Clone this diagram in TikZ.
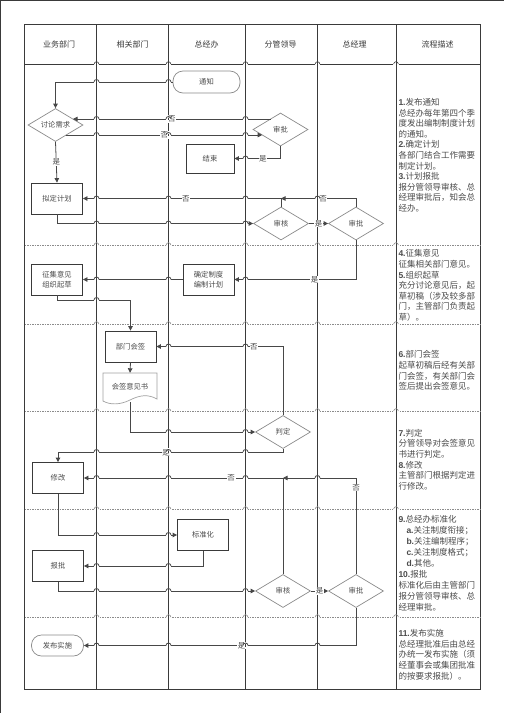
\documentclass[tikz,border=0pt]{standalone}
\usepackage{fontspec}
\setmainfont{Noto Sans CJK SC}
\newfontfamily\numfont{Liberation Sans}
\usetikzlibrary{shapes.geometric,arrows.meta}
\definecolor{lanec}{HTML}{3A3A3A}
\definecolor{connc}{HTML}{474747}
\definecolor{diac}{HTML}{8A8A8A}
\definecolor{txtc}{HTML}{4A4A4A}
\definecolor{sepc}{HTML}{8C8C8C}
\tikzset{
  lanes/.style={draw=lanec,line width=0.8pt},
  sepline/.style={draw=sepc,line width=0.7pt,dash pattern=on 1.6pt off 0.9pt},
  conn/.style={draw=connc,line width=0.8pt},
  arr/.style={conn,-{Triangle[length=4.5pt,width=4.5pt]}},
  boxn/.style={draw=lanec,line width=0.8pt,fill=white,minimum width=51pt,minimum height=31pt,inner sep=0pt,align=center,font=\fontsize{7.3}{10}\selectfont,text=txtc},
  dian/.style={diamond,draw=diac,line width=0.7pt,fill=white,minimum width=55pt,minimum height=33pt,inner sep=0pt,aspect=1.67,font=\fontsize{7.3}{9}\selectfont,text=txtc},
  termn/.style={draw=diac,line width=0.7pt,fill=white,rounded corners=10pt,inner sep=0pt,font=\fontsize{7.3}{9}\selectfont,text=txtc},
  lbl/.style={fill=white,inner sep=0.6pt,font=\fontsize{7.5}{8}\selectfont,text=txtc},
  hdr/.style={inner sep=0pt,font=\fontsize{8}{10}\selectfont,text=lanec},
  desc/.style={anchor=north west,inner sep=0pt,align=left,font=\fontsize{8.5}{10.6}\selectfont,text=txtc},
  docline/.style={draw=diac!80,line width=0.7pt,fill=white}
}
\newcommand\myhopc[2]{%
  \fill[white] (#1-2.8,#2-1.1) rectangle (#1+2.8,#2+1.1);
  \draw[lanes] (#1,#2-1.4) -- (#1,#2+1.4);
  \draw[conn] (#1-2.5,#2) arc[start angle=180,end angle=0,radius=2.5pt];}
\newcommand\myhopl[3]{%
  \fill[white] (#1-2.6,#2-0.9) rectangle (#1+2.6,#2+0.9);
  \draw[lanes] (#1,#2-1.2) -- (#1,#2+1.2);
  \draw[draw=#3,line width=0.6pt] (#1-2.3,#2) arc[start angle=180,end angle=0,radius=2.3pt];}
\newcommand\nb[1]{{\numfont\bfseries #1}}
\begin{document}
\begin{tikzpicture}[x=1pt,y=-1pt]
\useasboundingbox (0,0) rectangle (504,713);
% page frame (top and left)
\draw[draw=lanec,line width=1.2pt] (0,0.6) -- (504,0.6);
\draw[draw=lanec,line width=1.4pt] (0.7,0) -- (0.7,713);
% table
\draw[lanes] (24.5,24.5) rectangle (480.5,689);
\draw[lanes] (24.5,64) -- (480.5,64);
\foreach \lx in {96.5,168.5,245.5,317.5,396} \draw[lanes] (\lx,24.5) -- (\lx,689);
\foreach \sy in {245,324,411,509,617} \draw[sepline] (24.5,\sy) -- (480.5,\sy);
\foreach \lx in {96.5,168.5,245.5,317.5,396} {
  \myhopl{\lx}{64}{lanec}
  \foreach \sy in {245,324,411,509,617} {\myhopl{\lx}{\sy}{sepc}}
}
% headers
\node[hdr] (h1) at (59,44.3) {业务部门};
\node[hdr] (h2) at (132.5,44.3) {相关部门};
\node[hdr] (h3) at (206.5,44.3) {总经办};
\node[hdr] (h4) at (280.5,44.3) {分管领导};
\node[hdr] (h5) at (354.5,44.3) {总经理};
\node[hdr] (h6) at (437.5,44.3) {流程描述};
% nodes
\node[termn,minimum width=67pt,minimum height=22pt] (tz) at (206.5,82) {通知};
\node[dian] (tl) at (55.5,125) {讨论需求};
\node[dian] (sp1) at (280.5,129.5) {审批};
\node[boxn,minimum width=48pt,minimum height=29pt] (js) at (210,158.5) {结束};
\node[boxn] (nd) at (57,198.5) {拟定计划};
\node[dian] (sh1) at (281,223.5) {审核};
\node[dian] (sp2) at (356,223.5) {审批};
\node[boxn] (zj) at (57,279.5) {征集意见\\组织起草};
\node[boxn] (qd) at (208.5,279.5) {确定制度\\编制计划};
\node[boxn] (bm) at (130.5,346.5) {部门会签};
\draw[docline] (103,373) -- (157,373) -- (157,399) .. controls (148,394) and (140,395) .. (130,400) .. controls (120,405) and (110,405) .. (103,401) -- cycle;
\node[inner sep=0pt,minimum width=54pt,minimum height=29pt,font=\fontsize{7.3}{9}\selectfont,text=txtc] (hq) at (130,387.5) {\raisebox{1.5pt}{会签意见书}};
\node[dian] (pd) at (283,432) {判定};
\node[boxn] (xg) at (58,478) {修改};
\node[boxn] (bz) at (203,535) {标准化};
\node[boxn] (bp) at (58,566) {报批};
\node[dian] (sh2) at (283,591) {审核};
\node[dian] (sp3) at (356,591) {审批};
\node[termn,minimum width=52pt,minimum height=21pt] (fb) at (57.5,645.5) {发布实施};
% connectors
\draw[arr] (tz.west) -| (tl.north);
\draw[arr] ([shift={(-10,-10.5)}]sp1.center) -- node[lbl]{否} ([shift={(17.5,-6)}]tl.center);
\draw[arr] ([shift={(10.8,10)}]tl.center) -- node[lbl]{否} ([shift={(-18.3,5.5)}]sp1.center);
\draw[arr] (sp1.south) |- node[lbl,pos=0.69]{是} (js.east);
\draw[arr] (tl.south) -- node[lbl]{是} (nd.north);
\draw[arr] (sh1.north) |- node[lbl,pos=0.74]{否} (nd.east);
\draw[arr] (sp2.north) |- node[lbl,pos=0.72]{否} (sh1.north |- nd.east);
\draw[arr] (nd.south) |- (sh1.west);
\draw[arr] (sh1.east) -- node[lbl]{是} (sp2.west);
\draw[arr] (sp2.south) |- node[lbl,pos=0.67]{是} (qd.east);
\draw[arr] (qd.west) -- (zj.east);
\draw[arr] (zj.south) -- ++(0,5) -| (bm.north);
\draw[arr] (pd.north) |- node[lbl,pos=0.615]{否} (bm.east);
\draw[arr] (bm.south) -- (hq.north);
\draw[arr] (hq.south) |- (pd.west);
\draw[arr] (pd.south) -- ++(0,3.5) -| node[lbl,pos=0.26]{是} (xg.north);
\draw[arr] (sh2.north) |- node[lbl,pos=0.63]{否} (xg.east);
\draw[arr] (sp3.north) |- node[lbl,pos=0.45]{否} (sh2.north |- xg.east);
\draw[arr] (xg.south) |- (bz.west);
\draw[arr] (bz.south) |- (bp.east);
\draw[arr] (bp.south) |- (sh2.west);
\draw[arr] (sh2.east) -- node[lbl]{是} (sp3.west);
\draw[arr] (sp3.south) |- node[lbl,pos=0.71]{是} (fb.east);
% line hops of the connectors over the lane lines
\foreach \hx/\hy in {96.5/82,168.5/82,
  96.5/119,168.5/119,245.5/119, 96.5/135,168.5/135,245.5/135, 245.5/158.5,
  96.5/198.5,168.5/198.5,245.5/198.5,317.5/198.5,
  96.5/223.5,168.5/223.5,245.5/223.5,
  96.5/279.5,168.5/279.5,245.5/279.5, 96.5/300,
  168.5/346.5,245.5/346.5, 168.5/432,245.5/432,
  96.5/452,168.5/452,245.5/452,
  96.5/478,168.5/478,245.5/478,317.5/478,
  96.5/535,168.5/535, 96.5/566,168.5/566,
  96.5/591,168.5/591,245.5/591,
  96.5/645.5,168.5/645.5,245.5/645.5,317.5/645.5} {\myhopc{\hx}{\hy}}
% description
\node[desc] (d1) at (398.3,98.2) {\nb{1.}发布通知\\总经办每年第四个季\\度发出编制制度计划\\的通知。\\\nb{2.}确定计划\\各部门结合工作需要\\制定计划。\\\nb{3.}计划报批\\报分管领导审核、总\\经理审批后，知会总\\经办。};
\node[desc] (d2) at (398.3,249.5) {\nb{4.}征集意见\\征集相关部门意见。\\\nb{5.}组织起草\\充分讨论意见后，起\\草初稿（涉及较多部\\门，主管部门负责起\\草）。};
\node[desc] (d3) at (398.3,350.5) {\nb{6.}部门会签\\起草初稿后经有关部\\门会签，有关部门会\\签后提出会签意见。};
\node[desc] (d4) at (398.3,428.8) {\nb{7.}判定\\分管领导对会签意见\\书进行判定。\\\nb{8.}修改\\主管部门根据判定进\\行修改。};
\node[desc,font=\fontsize{8.5}{11}\selectfont] (d5) at (398.3,515.5) {\nb{9.}总经办标准化\\\hspace*{8pt}\nb{a.}关注制度衔接；\\\hspace*{8pt}\nb{b.}关注编制程序；\\\hspace*{8pt}\nb{c.}关注制度格式；\\\hspace*{8pt}\nb{d.}其他。\\\nb{10.}报批\\标准化后由主管部门\\报分管领导审核、总\\经理审批。};
\node[desc,font=\fontsize{8.5}{10.85}\selectfont] (d6) at (398.3,628.8) {\nb{11.}发布实施\\总经理批准后由总经\\办统一发布实施（须\\经董事会或集团批准\\的按要求报批）。};
\end{tikzpicture}
\end{document}
